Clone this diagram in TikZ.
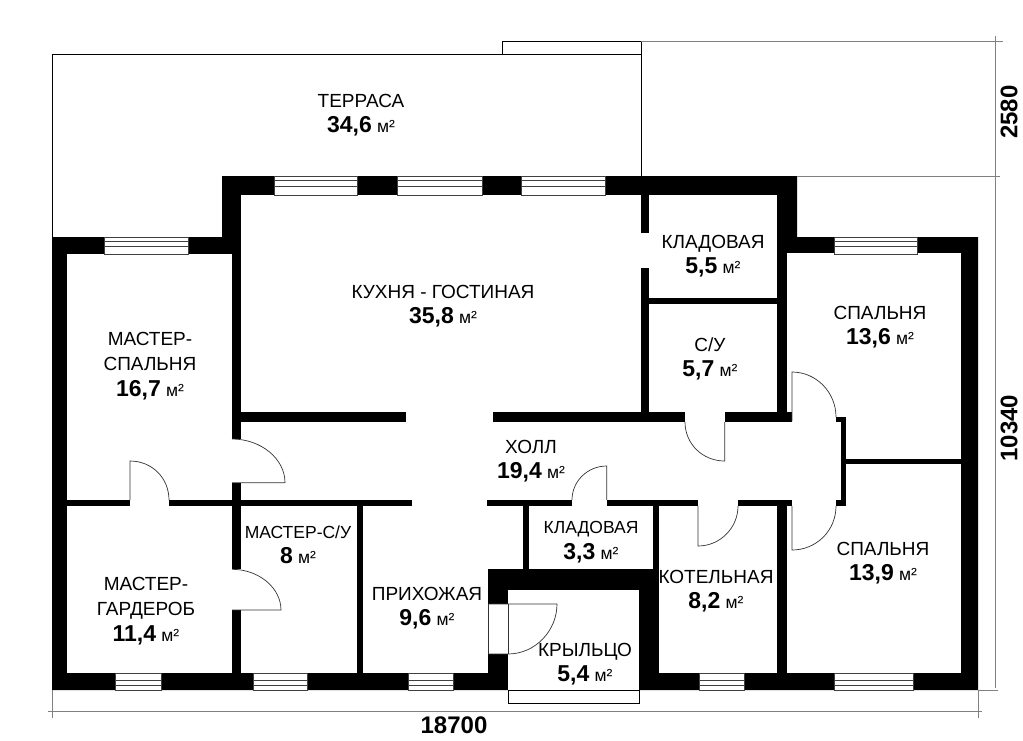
\documentclass[tikz,border=0pt]{standalone}
\usepackage{fontspec}
\setmainfont{Liberation Sans}
\tikzset{
  roomlabel/.style={align=center,font=\fontsize{19}{25.5}\selectfont,inner sep=0pt},
  dimlabel/.style={font=\fontsize{24}{24}\selectfont\bfseries,inner sep=0pt},
  thinline/.style={draw=black,line width=0.9pt},
  dimline/.style={draw=black!50,line width=0.8pt},
  doorline/.style={draw=black!80,line width=0.7pt},
  winline/.style={draw=black!75,line width=0.8pt}
}
\newcommand{\area}[1]{{\fontsize{23}{25.5}\selectfont\bfseries #1} {\fontsize{17.5}{25.5}\selectfont м²}}

\begin{document}
\begin{tikzpicture}[x=1pt,y=-1pt]
  \useasboundingbox (0,0) rectangle (1023,740);
  % terrace and steps
  \draw[thinline] (52,237) -- (52,54) -- (641,54) -- (641,176);
  \draw[thinline] (502,54) -- (502,41) -- (641,41) -- (641,54);
  \draw[thinline] (508,690) rectangle (639,703);
  % outer walls
  \fill[black] (52,237) -- (222,237) -- (222,176) -- (797,176) -- (797,237)
    -- (978,237) -- (978,690) -- (52,690) -- cycle;
  % rooms and openings
  \foreach \xa/\ya/\xb/\yb in {
    241/195/641/412, 649/195/777/298.3, 649/304.3/777/412, 641/233/649/267.7,
    67.3/254/231.7/499.5, 231.7/439/241/482.7,
    241/422/841/500, 405.7/412/492.7/422, 685/412/724.7/422,
    130/499/169/507, 412/499/487/507, 572/499/606.7/507, 698/499/737.7/507, 792/499/836/507,
    787/253/961/412, 792/411/961/417, 846/416/961/459, 792/416/836/423,
    787/506/961/673, 846/464/961/507,
    67.3/506/231.7/673, 231.7/569.3/241/610, 241/506/357.3/673,
    363/506/523/569.3, 363/569/488/673, 528.7/506/653/569, 659/506/777/673,
    508/590/639/690, 488/604/508/654}
    \fill[white] (\xa,\ya) rectangle (\xb,\yb);
  % windows
  \foreach \xa/\xb in {274.3/357.3, 397/482.3, 521/605.3}{
    \fill[white] (\xa,176) rectangle (\xb,195);
    \draw[winline] (\xa,176.5) rectangle (\xb,195);
    \draw[winline] (\xa,180) -- (\xb,180);
    \draw[winline] (\xa,186) -- (\xb,186);
  }
  \foreach \xa/\xb in {104.3/188, 834.7/917.7}{
    \fill[white] (\xa,237) rectangle (\xb,254);
    \draw[winline] (\xa,237.5) rectangle (\xb,254);
    \draw[winline] (\xa,241) -- (\xb,241);
    \draw[winline] (\xa,246) -- (\xb,246);
  }
  \foreach \xa/\xb in {115.7/161, 253/307.3, 408.3/453.3, 699.3/744, 834.7/913}{
    \fill[white] (\xa,673) rectangle (\xb,690);
    \draw[winline] (\xa,673.5) rectangle (\xb,690);
    \draw[winline] (\xa,680) -- (\xb,680);
    \draw[winline] (\xa,685) -- (\xb,685);
  }
  % doors
  \draw[doorline] (130,500) -- (130,461) .. controls +(22,0) and +(0,-22) .. (169,500);
  \draw[doorline] (232,482.7) -- (285,482.7) .. controls +(0,-24) and +(29,0) .. (232,439);
  \draw[doorline] (232,610) -- (281,610) .. controls +(0,-22) and +(27,0) .. (232,569.3);
  \draw[doorline] (606.7,500) -- (606.7,466) .. controls +(-19,0) and +(0,-19) .. (572,500);
  \draw[doorline] (724.7,422) -- (724.7,461) .. controls +(-22,0) and +(0,22) .. (685,422);
  \draw[doorline] (698,506) -- (698,546) .. controls +(22,0) and +(0,22) .. (738,506);
  \draw[doorline] (792,421) -- (792,372) .. controls +(24,0) and +(0,-25) .. (836,417);
  \draw[doorline] (792,506) -- (792,550) .. controls +(24,0) and +(0,25) .. (836,506);
  \draw[doorline] (488,604) -- (557,604) .. controls +(0,27) and +(27,0) .. (508,654) -- (488,654);
  \draw[doorline] (488,604) -- (488,654);
  \draw[doorline] (508,604) -- (508,654);
  % dimensions
  \draw[dimline] (641,41) -- (1003,41);
  \draw[dimline] (797,176) -- (1000,176);
  \draw[dimline] (995,36) -- (995,688);
  \draw[dimline] (978,690) -- (998,690);
  \draw[dimline] (48,711.7) -- (982,711.7);
  \draw[dimline] (52,690) -- (52,718);
  \draw[dimline] (978,690) -- (978,718);
  \node[dimlabel,rotate=90] (dimterrace) at (1009,112) {2580};
  \node[dimlabel,rotate=90] (dimheight) at (1009,428) {10340};
  \node[dimlabel] (dimwidth) at (454,725) {18700};
  % room labels
  \node[roomlabel] (terrace) at (361,115) {ТЕРРАСА\\\area{34,6}};
  \node[roomlabel] (kitchen) at (443,306) {КУХНЯ - ГОСТИНАЯ\\\area{35,8}};
  \node[roomlabel] (pantrytop) at (713,256) {КЛАДОВАЯ\\\area{5,5}};
  \node[roomlabel] (bedroomtop) at (880,327) {СПАЛЬНЯ\\\area{13,6}};
  \node[roomlabel] (bath) at (710,359) {С/У\\\area{5,7}};
  \node[roomlabel] (masterbed) at (150,366) {МАСТЕР-\\СПАЛЬНЯ\\\area{16,7}};
  \node[roomlabel] (hall) at (531,461) {ХОЛЛ\\\area{19,4}};
  \node[roomlabel] (masterbath) at (298,545) {{\fontsize{17.5}{25.5}\selectfont МАСТЕР-С/У}\\\area{8}};
  \node[roomlabel] (pantrylow) at (591,542) {{\fontsize{17.5}{25.5}\selectfont КЛАДОВАЯ}\\\area{3,3}};
  \node[roomlabel] (boiler) at (716,591) {КОТЕЛЬНАЯ\\\area{8,2}};
  \node[roomlabel] (bedroomlow) at (883,563) {СПАЛЬНЯ\\\area{13,9}};
  \node[roomlabel] (wardrobe) at (146,611) {МАСТЕР-\\ГАРДЕРОБ\\\area{11,4}};
  \node[roomlabel] (entry) at (427,608) {ПРИХОЖАЯ\\\area{9,6}};
  \node[roomlabel] (porch) at (585,664) {КРЫЛЬЦО\\\area{5,4}};
\end{tikzpicture}
\end{document}
